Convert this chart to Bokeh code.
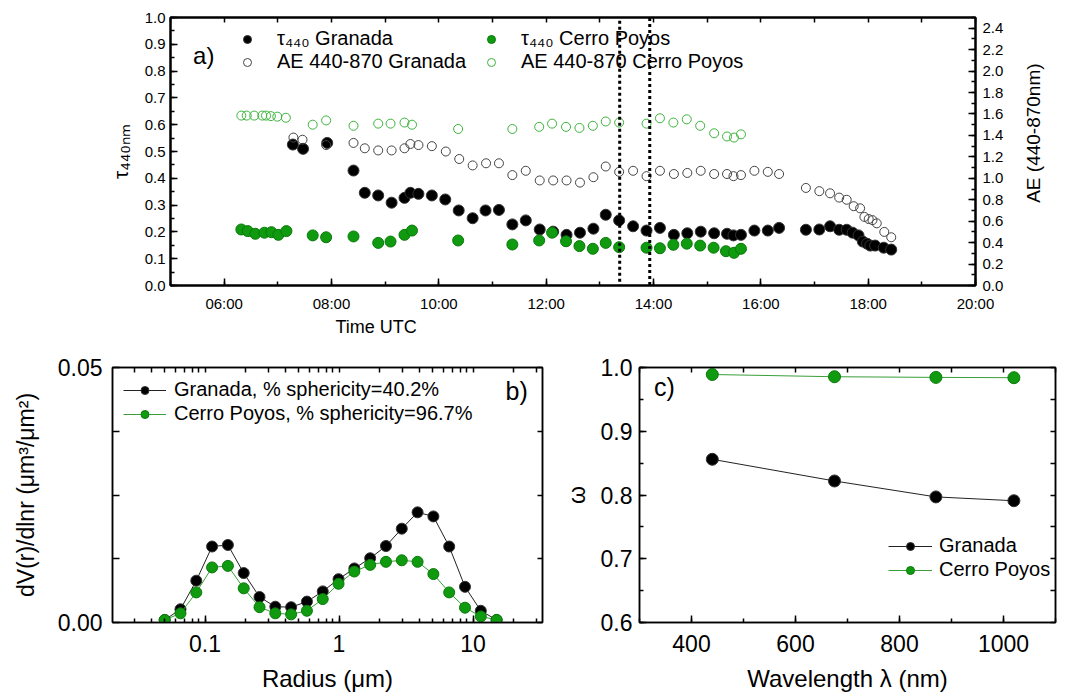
import math
from bokeh.plotting import figure
from bokeh.models import (LinearAxis, LogAxis, Range1d, FixedTicker, Legend, LegendItem,
                          Label, BoxAnnotation, NumeralTickFormatter, Title)
from bokeh.layouts import column, row
from bokeh.embed import file_html
from bokeh.resources import INLINE

FONT = "Liberation Sans"

# ---------------- panel a) data (time in decimal hours UTC) ----------------
tau_granada_time = [7.28, 7.47, 7.92, 8.41, 8.62, 8.87, 9.12, 9.36, 9.47, 9.62, 9.87, 10.12, 10.37,
                    10.63, 10.87, 11.12, 11.37, 11.62, 11.88, 12.13, 12.38, 12.63, 12.88, 13.11,
                    13.36, 13.62, 13.87, 14.12, 14.38, 14.63, 14.88, 15.13, 15.37, 15.49, 15.63,
                    15.88, 16.13, 16.34, 16.84, 17.09, 17.29, 17.46, 17.60, 17.71, 17.82, 17.90,
                    17.98, 18.04, 18.13, 18.29, 18.43]
tau_granada = [0.526, 0.510, 0.532, 0.429, 0.346, 0.336, 0.309, 0.327, 0.346, 0.342, 0.336, 0.321,
               0.280, 0.251, 0.280, 0.282, 0.228, 0.243, 0.209, 0.201, 0.189, 0.197, 0.212, 0.264,
               0.243, 0.221, 0.205, 0.215, 0.189, 0.195, 0.201, 0.195, 0.193, 0.187, 0.189, 0.205,
               0.205, 0.215, 0.208, 0.209, 0.221, 0.208, 0.208, 0.197, 0.187, 0.164, 0.156, 0.149,
               0.149, 0.141, 0.134]

ae_granada_time = [7.29, 7.46, 7.90, 8.41, 8.62, 8.87, 9.12, 9.36, 9.47, 9.62, 9.87, 10.13, 10.38,
                   10.63, 10.88, 11.12, 11.37, 11.62, 11.88, 12.13, 12.38, 12.63, 12.88, 13.11,
                   13.36, 13.62, 13.87, 14.12, 14.38, 14.63, 14.88, 15.13, 15.37, 15.49, 15.63,
                   15.88, 16.13, 16.34, 16.84, 17.09, 17.29, 17.46, 17.60, 17.73, 17.85, 17.93,
                   18.01, 18.08, 18.16, 18.30, 18.43]
ae_granada = [1.38, 1.36, 1.31, 1.33, 1.28, 1.26, 1.26, 1.28, 1.32, 1.31, 1.30, 1.25, 1.18, 1.12,
              1.14, 1.14, 1.03, 1.07, 0.98, 0.98, 0.98, 0.96, 1.01, 1.11, 1.06, 1.07, 1.02, 1.07,
              1.04, 1.05, 1.07, 1.04, 1.04, 1.02, 1.03, 1.07, 1.06, 1.04, 0.91, 0.88, 0.86, 0.82,
              0.80, 0.74, 0.72, 0.64, 0.62, 0.61, 0.58, 0.50, 0.45]

tau_cp_time = [6.32, 6.44, 6.58, 6.75, 6.88, 7.01, 7.16, 7.65, 7.90, 8.41, 8.87, 9.10, 9.36, 9.50,
               10.36, 11.37, 11.87, 12.11, 12.37, 12.62, 12.87, 13.11, 13.36, 13.87, 14.12, 14.37,
               14.62, 14.87, 15.12, 15.35, 15.50, 15.63]
tau_cp = [0.209, 0.203, 0.193, 0.197, 0.199, 0.189, 0.203, 0.187, 0.180, 0.183, 0.159, 0.164, 0.189,
          0.205, 0.168, 0.153, 0.168, 0.197, 0.165, 0.147, 0.137, 0.159, 0.143, 0.141, 0.139, 0.152,
          0.156, 0.149, 0.141, 0.128, 0.122, 0.137]

ae_cp_time = [6.32, 6.42, 6.56, 6.71, 6.78, 6.87, 6.99, 7.15, 7.65, 7.90, 8.41, 8.87, 9.10, 9.36,
              9.50, 10.36, 11.37, 11.87, 12.11, 12.37, 12.62, 12.87, 13.11, 13.36, 13.87, 14.12,
              14.37, 14.62, 14.87, 15.13, 15.37, 15.50, 15.63]
ae_cp = [1.585, 1.585, 1.585, 1.585, 1.585, 1.58, 1.575, 1.565, 1.50, 1.54, 1.49, 1.51, 1.51, 1.52,
         1.50, 1.46, 1.46, 1.48, 1.51, 1.48, 1.47, 1.49, 1.53, 1.52, 1.51, 1.56, 1.52, 1.55, 1.49,
         1.42, 1.39, 1.38, 1.41]

highlight_window = [13.37, 13.93]   # dotted box (hours)

time_ticks = [6, 8, 10, 12, 14, 16, 18, 20]
time_tick_labels = ["06:00", "08:00", "10:00", "12:00", "14:00", "16:00", "18:00", "20:00"]

# ---------------- panel b) data ----------------
radius = [0.05, 0.065604, 0.086077, 0.112939, 0.148184, 0.194429, 0.255105, 0.334716, 0.439173,
          0.576227, 0.756052, 0.991996, 1.301571, 1.707757, 2.240702, 2.939966, 3.857452,
          5.06126, 6.640745, 8.713145, 11.432287, 15.0]
dv_granada = [0.0005, 0.0026, 0.0082, 0.0149, 0.0152, 0.0097, 0.0050, 0.0031, 0.0030, 0.0041,
              0.0061, 0.0085, 0.0106, 0.0126, 0.0150, 0.0184, 0.0216, 0.0208, 0.0149, 0.0070,
              0.0023, 0.0005]
dv_cp = [0.0005, 0.0018, 0.0059, 0.0108, 0.0111, 0.0067, 0.0030, 0.0018, 0.0016, 0.0023, 0.0046,
         0.0076, 0.0100, 0.0113, 0.0119, 0.0122, 0.0119, 0.0095, 0.0059, 0.0029, 0.0012, 0.0005]

# ---------------- panel c) data ----------------
wavelength = [440, 675, 870, 1020]
ssa_granada = [0.856, 0.822, 0.797, 0.791]
ssa_cp = [0.989, 0.9855, 0.9845, 0.984]

BLACK = "#000000"
GREEN = "#109a10"
GREEN_OPEN = "#3cb43c"
GREEN_LINE = "#3a9e3a"


def style_axis(ax, size, lw=2):
    ax.axis_line_color = "black"
    ax.axis_line_width = lw
    ax.major_tick_in = 7
    ax.major_tick_out = 0
    ax.minor_tick_in = 4
    ax.minor_tick_out = 0
    ax.major_tick_line_color = "black"
    ax.minor_tick_line_color = "black"
    ax.major_tick_line_width = 1.5
    ax.minor_tick_line_width = 1.5
    ax.major_label_text_font = FONT
    ax.major_label_text_color = "black"
    ax.major_label_text_font_size = size
    ax.axis_label_text_font = FONT
    ax.axis_label_text_font_style = "normal"
    ax.axis_label_text_color = "black"


def mirror_axis(p, cls, positions, place, lw=2, **kw):
    """An unlabeled axis on the opposite side that only repeats the tick marks."""
    ax = cls(ticker=FixedTicker(ticks=[], minor_ticks=positions), **kw)
    ax.axis_line_color = "black"
    ax.axis_line_width = lw
    ax.major_tick_in = 0
    ax.major_tick_out = 0
    ax.minor_tick_in = 5
    ax.minor_tick_out = 0
    ax.minor_tick_line_color = "black"
    ax.minor_tick_line_width = 1.5
    ax.major_label_standoff = 0
    p.add_layout(ax, place)
    return ax


def make_legend(items, loc, size="20px", gw=20, spacing=3, standoff=20):
    return Legend(items=items, location=loc, background_fill_alpha=0, border_line_alpha=0,
                  padding=0, margin=0, spacing=spacing, glyph_width=gw, glyph_height=20,
                  label_height=20, label_standoff=standoff, label_text_font=FONT,
                  label_text_font_size=size, label_text_color="black")


# =================== panel a ===================
p1 = figure(width=1015, height=350, x_range=Range1d(5, 20), y_range=Range1d(0, 1),
            output_backend="svg", toolbar_location=None,
            min_border_left=170, min_border_right=40, min_border_top=17, min_border_bottom=65)
p1.extra_y_ranges = {"ae": Range1d(0, 2.5)}
p1.xgrid.visible = False
p1.ygrid.visible = False
p1.outline_line_color = "black"
p1.outline_line_width = 2

x_minor = list(range(5, 21))
y_minor = [i / 20 for i in range(21)]
ae_minor = [i / 10 for i in range(26)]
xt = FixedTicker(ticks=time_ticks, minor_ticks=x_minor)
yt = FixedTicker(ticks=[i / 10 for i in range(11)], minor_ticks=y_minor)
aet = FixedTicker(ticks=[i / 5 for i in range(13)], minor_ticks=ae_minor)

xa = p1.xaxis[0]
xa.ticker = xt
xa.major_label_overrides = {t: l for t, l in zip(time_ticks, time_tick_labels)}
style_axis(xa, "15px")
xa.major_label_standoff = 9

ya = p1.yaxis[0]
ya.ticker = yt
ya.formatter = NumeralTickFormatter(format="0.0")
style_axis(ya, "15px")
ya.major_label_standoff = 5
ya.axis_label = "τ₄₄₀ₙₘ"
ya.axis_label_text_font_size = "21px"
ya.axis_label_standoff = 10

ra = LinearAxis(y_range_name="ae", ticker=aet, formatter=NumeralTickFormatter(format="0.0"))
style_axis(ra, "15px")
ra.major_label_standoff = 7
p1.add_layout(ra, "right")

mirror_axis(p1, LinearAxis, sorted(set(time_ticks + x_minor)), "above")

p1.add_layout(Title(text="Time UTC", align="left", offset=165, text_font=FONT,
                    text_font_size="18px", text_font_style="normal", text_color="black",
                    standoff=0), "below")

r_tg = p1.scatter(tau_granada_time, tau_granada, size=11, marker="circle",
                  fill_color=BLACK, line_color="#333333")
r_ag = p1.scatter(ae_granada_time, ae_granada, y_range_name="ae", size=9, marker="circle",
                  fill_color=None, line_color="#444444", line_width=1)
r_tc = p1.scatter(tau_cp_time, tau_cp, size=11, marker="circle",
                  fill_color=GREEN, line_color="#0a7a0a")
r_ac = p1.scatter(ae_cp_time, ae_cp, y_range_name="ae", size=9, marker="circle",
                  fill_color=None, line_color=GREEN_OPEN, line_width=1)

box = BoxAnnotation(left=highlight_window[0], right=highlight_window[1], bottom=-0.02, top=1.02,
                    fill_alpha=0, line_color="black", line_alpha=1.0, line_width=3,
                    line_dash="3 3")
p1.add_layout(box)

leg1 = make_legend([LegendItem(label="τ₄₄₀ Granada", renderers=[r_tg]),
                    LegendItem(label="AE 440-870 Granada", renderers=[r_ag])], (67, 212),
                   spacing=-1)
leg2 = make_legend([LegendItem(label="τ₄₄₀ Cerro Poyos", renderers=[r_tc]),
                    LegendItem(label="AE 440-870 Cerro Poyos", renderers=[r_ac])], (311, 212),
                   spacing=-1)
p1.add_layout(leg1)
p1.add_layout(leg2)

p1.add_layout(Label(x=5.42, y=0.858, text="a)", text_font=FONT, text_font_size="24px",
                    text_color="black", text_baseline="middle", text_align="left"))

# narrow strip holding the right-hand axis title (reads bottom-to-top)
p_ae = figure(width=56, height=350, x_range=Range1d(0, 56), y_range=Range1d(0, 350),
              output_backend="svg", toolbar_location=None, x_axis_location=None,
              y_axis_location=None, min_border=0)
p_ae.xgrid.visible = False
p_ae.ygrid.visible = False
p_ae.outline_line_color = None
p_ae.add_layout(Label(x=18, y=199, text="AE (440-870nm)", angle=math.pi / 2, text_font=FONT,
                      text_font_size="19px", text_color="black", text_align="center",
                      text_baseline="middle"))

# =================== panel b ===================
p2 = figure(width=560, height=344, x_axis_type="log", x_range=Range1d(0.0204, 33),
            y_range=Range1d(0, 0.05), output_backend="svg", toolbar_location=None,
            min_border_left=112, min_border_right=18, min_border_top=17, min_border_bottom=71)
p2.xgrid.visible = False
p2.ygrid.visible = False
p2.outline_line_color = "black"
p2.outline_line_width = 1.5

log_minor = [round(m * 10 ** e, 6) for e in (-2, -1, 0, 1) for m in range(1, 10)
             if 0.02 <= m * 10 ** e <= 33]
b_xticks = [0.1, 1, 10]
b_yminor = [0.0125, 0.025, 0.0375]
bx_t = FixedTicker(ticks=b_xticks, minor_ticks=log_minor)
by_t = FixedTicker(ticks=[0, 0.05], minor_ticks=b_yminor)

bxa = p2.xaxis[0]
bxa.ticker = bx_t
bxa.major_label_overrides = {0.1: "0.1", 1: "1", 10: "10"}
style_axis(bxa, "23px", lw=1.5)
bxa.major_label_standoff = 12
bxa.axis_label = "Radius (μm)"
bxa.axis_label_text_font_size = "24px"
bxa.axis_label_standoff = 10

bya = p2.yaxis[0]
bya.ticker = by_t
bya.formatter = NumeralTickFormatter(format="0.00")
style_axis(bya, "23px", lw=1.5)
bya.minor_tick_in = 7
bya.major_label_standoff = 10
bya.axis_label = "dV(r)/dlnr (μm³/μm²)"
bya.axis_label_text_font_size = "23px"
bya.axis_label_standoff = 16

mirror_axis(p2, LogAxis, sorted(set(b_xticks + log_minor)), "above", lw=1.5)
mirror_axis(p2, LinearAxis, [0, 0.0125, 0.025, 0.0375, 0.05], "right", lw=1.5)

l2g = p2.line(radius, dv_granada, line_color="#222222", line_width=1)
s2g = p2.scatter(radius, dv_granada, size=11, marker="circle", fill_color=BLACK, line_color="#333333")
l2c = p2.line(radius, dv_cp, line_color=GREEN_LINE, line_width=1)
s2c = p2.scatter(radius, dv_cp, size=11, marker="circle", fill_color=GREEN, line_color="#0a7a0a")

leg_b = make_legend([LegendItem(label="Granada, % sphericity=40.2%", renderers=[l2g, s2g]),
                     LegendItem(label="Cerro Poyos, % sphericity=96.7%", renderers=[l2c, s2c])],
                    (11, 197), size="20px", gw=43, spacing=1, standoff=8)
p2.add_layout(leg_b)
p2.add_layout(Label(x=17.5, y=0.0453, text="b)", text_font=FONT, text_font_size="25px",
                    text_color="black", text_baseline="middle", text_align="left"))

# =================== panel c ===================
p3 = figure(width=511, height=344, x_range=Range1d(300, 1100), y_range=Range1d(0.6, 1.0),
            output_backend="svg", toolbar_location=None,
            min_border_left=77, min_border_right=16, min_border_top=17, min_border_bottom=71)
p3.xgrid.visible = False
p3.ygrid.visible = False
p3.outline_line_color = "black"
p3.outline_line_width = 1.5

c_xticks = [400, 600, 800, 1000]
c_xminor = list(range(300, 1101, 100))
c_yticks = [0.6, 0.7, 0.8, 0.9, 1.0]
c_yminor = [round(0.6 + 0.05 * i, 2) for i in range(9)]
cx_t = FixedTicker(ticks=c_xticks, minor_ticks=c_xminor)
cy_t = FixedTicker(ticks=c_yticks, minor_ticks=c_yminor)

cxa = p3.xaxis[0]
cxa.ticker = cx_t
style_axis(cxa, "23px", lw=1.5)
cxa.major_label_standoff = 12
cxa.axis_label = "Wavelength λ (nm)"
cxa.axis_label_text_font_size = "24px"
cxa.axis_label_standoff = 10

cya = p3.yaxis[0]
cya.ticker = cy_t
cya.formatter = NumeralTickFormatter(format="0.0")
style_axis(cya, "23px", lw=1.5)
cya.major_label_standoff = 7
cya.axis_label = "ω"
cya.axis_label_text_font_size = "23px"
cya.axis_label_standoff = 8

mirror_axis(p3, LinearAxis, c_xminor, "above", lw=1.5)
mirror_axis(p3, LinearAxis, c_yminor, "right", lw=1.5)

l3g = p3.line(wavelength, ssa_granada, line_color="#222222", line_width=1)
s3g = p3.scatter(wavelength, ssa_granada, size=12, marker="circle", fill_color=BLACK, line_color="#333333")
l3c = p3.line(wavelength, ssa_cp, line_color=GREEN_LINE, line_width=1)
s3c = p3.scatter(wavelength, ssa_cp, size=12, marker="circle", fill_color=GREEN, line_color="#0a7a0a")

leg_c = make_legend([LegendItem(label="Granada", renderers=[l3g, s3g]),
                     LegendItem(label="Cerro Poyos", renderers=[l3c, s3c])],
                    (249, 41), size="20px", gw=44, spacing=1, standoff=7)
p3.add_layout(leg_c)
p3.add_layout(Label(x=328, y=0.969, text="c)", text_font=FONT, text_font_size="25px",
                    text_color="black", text_baseline="middle", text_align="left"))

layout = column(row(p1, p_ae), row(p2, p3))
open("out.html", "w").write(file_html(layout, INLINE))
